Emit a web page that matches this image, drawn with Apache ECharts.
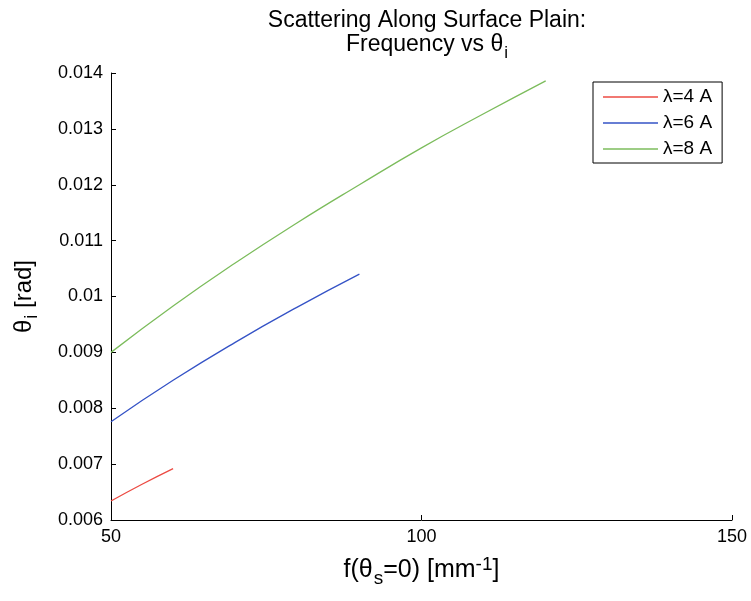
<!DOCTYPE html>
<html>
<head>
<meta charset="utf-8">
<script src="https://cdn.jsdelivr.net/npm/echarts@6/dist/echarts.min.js"></script>
<style>html,body{margin:0;padding:0;background:#fff;}#c{width:751px;height:601px;}</style>
</head>
<body>
<div id="c"></div>
<script>
// Data
var xLam4 = [50, 55, 60];
var yLam4 = [0.00634, 0.00664, 0.00692];
var xLam6 = [50, 60, 70, 80, 90];
var yLam6 = [0.00776, 0.00850, 0.00918, 0.00981, 0.01040];
var xLam8 = [50, 60, 70, 80, 90, 100, 110, 120];
var yLam8 = [0.00900, 0.00983, 0.01060, 0.01132, 0.01200, 0.01266, 0.01327, 0.01386];
var seriesNames = ['λ=4 A', 'λ=6 A', 'λ=8 A'];
var xTicks = [50, 100, 150];
var yTicks = [0.006, 0.007, 0.008, 0.009, 0.01, 0.011, 0.012, 0.013, 0.014];

function pairs(xs, ys) { return xs.map(function (x, i) { return [x, ys[i]]; }); }

var FONT = 'Liberation Sans, Arial, sans-serif';
var chart = echarts.init(document.getElementById('c'));
chart.setOption({
  animation: false,
  backgroundColor: '#fff',
  textStyle: { fontFamily: FONT },
  title: {
    text: 'Scattering Along Surface Plain:\n{a|Frequency vs θ}{sub|i}',
    left: 422, top: 4, textAlign: 'center',
    textStyle: {
      fontFamily: FONT, fontSize: 23, fontWeight: 'normal', color: '#000', lineHeight: 24,
      rich: {
        a: { fontFamily: FONT, fontSize: 23, color: '#000', lineHeight: 24 },
        sub: { fontFamily: FONT, fontSize: 17, color: '#000', padding: [16, 0, 0, 1], lineHeight: 24 }
      }
    }
  },
  legend: {
    orient: 'vertical',
    left: 593, top: 82,
    padding: [5, 10, 4, 10],
    itemGap: 6,
    icon: 'rect',
    itemWidth: 55, itemHeight: 1.5,
    itemTextGap: 7,
    borderColor: '#000', borderWidth: 1,
    textStyle: { fontFamily: FONT, fontSize: 19, lineHeight: 20, color: '#000' },
    data: seriesNames
  },
  grid: { left: 111, right: 19, top: 73, bottom: 81 },
  xAxis: {
    type: 'value', min: 50, max: 150, interval: 50,
    name: 'f(θ{sub|s}=0) [mm{sup|-1}]',
    nameLocation: 'middle', nameGap: 33,
    nameTextStyle: {
      fontFamily: FONT, fontSize: 25, color: '#000',
      rich: {
        sub: { fontFamily: FONT, fontSize: 19, color: '#000', padding: [16, 0, 0, 1] },
        sup: { fontFamily: FONT, fontSize: 19, color: '#000', padding: [0, 0, 12, 0] }
      }
    },
    axisLine: { lineStyle: { color: '#000', width: 1 } },
    axisTick: { inside: true, length: 5, lineStyle: { color: '#000' } },
    axisLabel: { fontFamily: FONT, fontSize: 18, color: '#000', margin: 8 },
    splitLine: { show: false }
  },
  yAxis: {
    type: 'value', min: 0.006, max: 0.014, interval: 0.001,
    name: 'θ{sub|i} [rad]',
    nameLocation: 'middle', nameGap: 70, nameRotate: 90,
    nameTextStyle: {
      fontFamily: FONT, fontSize: 24, color: '#000',
      rich: {
        sub: { fontFamily: FONT, fontSize: 18, color: '#000', padding: [16, 0, 0, 1] }
      }
    },
    axisLine: { show: true, lineStyle: { color: '#000', width: 1 } },
    axisTick: { show: true, inside: true, length: 5, lineStyle: { color: '#000' } },
    axisLabel: {
      fontFamily: FONT, fontSize: 18, color: '#000', margin: 8,
      formatter: function (v) { return String(parseFloat(v.toFixed(4))); }
    },
    splitLine: { show: false }
  },
  series: [
    { name: seriesNames[0], type: 'line', symbol: 'none', smooth: true, data: pairs(xLam4, yLam4),
      lineStyle: { color: '#ec4b43', width: 1.3 }, itemStyle: { color: '#ec4b43' } },
    { name: seriesNames[1], type: 'line', symbol: 'none', smooth: true, data: pairs(xLam6, yLam6),
      lineStyle: { color: '#3553c6', width: 1.3 }, itemStyle: { color: '#3553c6' } },
    { name: seriesNames[2], type: 'line', symbol: 'none', smooth: true, data: pairs(xLam8, yLam8),
      lineStyle: { color: '#7cbc5c', width: 1.3 }, itemStyle: { color: '#7cbc5c' } }
  ]
});
</script>
</body>
</html>
